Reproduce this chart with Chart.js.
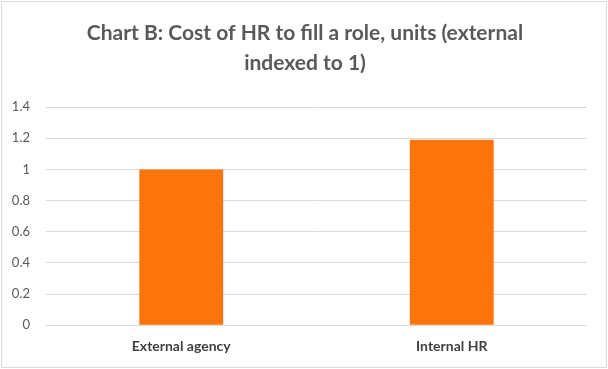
<!DOCTYPE html>
<html>
<head>
<meta charset="utf-8">
<script src="https://cdn.jsdelivr.net/npm/chart.js@4"></script>
<style>
  html, body { margin: 0; padding: 0; background: #fff; }
  #wrap { position: absolute; left: 1px; top: 1px; width: 604px; height: 365px; border: 1px solid #d9d9d9; }
</style>
</head>
<body>
<div id="wrap"><canvas id="chart" width="604" height="365"></canvas></div>
<script>
// Chart data
const categories = ['External agency', 'Internal HR'];
const costValues = [1, 1.19];
const titleLines = ['Chart B: Cost of HR to fill a role, units (external', 'indexed to 1)'];

document.addEventListener("DOMContentLoaded", function () {
  const ctx = document.getElementById('chart').getContext('2d');
  new Chart(ctx, {
    type: 'bar',
    data: {
      labels: categories,
      datasets: [{
        data: costValues,
        backgroundColor: '#fd740b',
        categoryPercentage: 1,
        barPercentage: 0.31
      }]
    },
    options: {
      responsive: false,
      animation: false,
      layout: { padding: { left: 7, right: 5, top: 10, bottom: 7 } },
      plugins: {
        legend: { display: false },
        tooltip: { enabled: false },
        title: {
          display: true,
          text: titleLines,
          color: '#595959',
          font: { family: 'Lato', size: 21, weight: 'bold', lineHeight: 1.43 },
          padding: { top: 6, bottom: 29 }
        }
      },
      scales: {
        x: {
          grid: { display: false },
          border: { display: false },
          ticks: { color: '#404040', font: { family: 'Lato', size: 14, weight: 'bold' }, padding: 5 }
        },
        y: {
          min: 0,
          max: 1.4,
          afterFit: function (scale) { scale.width = 37; },
          ticks: {
            stepSize: 0.2,
            color: '#595959',
            font: { family: 'Lato', size: 13 },
            padding: 16,
            callback: function (value) { return +value.toFixed(1); }
          },
          grid: { color: '#d9d9d9', drawTicks: false },
          border: { display: false }
        },
        // empty right-side spacer so the title stays centred on the whole box
        spacer: {
          position: 'right',
          min: 0,
          max: 1.4,
          afterFit: function (scale) { scale.width = 14; },
          ticks: { display: false },
          grid: { display: false },
          border: { display: false }
        }
      }
    }
  });
});
</script>
</body>
</html>
